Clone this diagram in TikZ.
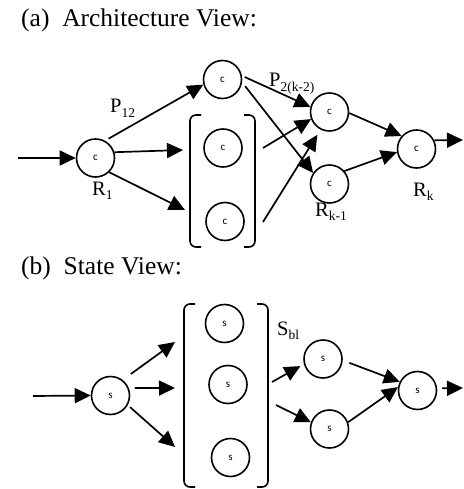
\documentclass[tikz,border=0pt]{standalone}
\usepackage{fontspec}
\setmainfont{Liberation Serif}
\newfontfamily\cellfont{Carlito}
\usetikzlibrary{arrows.meta}
% label with a lowered, smaller index
\newcommand\sublbl[2]{#1\raisebox{-0.2em}{\fontsize{13.5}{13.5}\selectfont #2}}

\begin{document}
\begin{tikzpicture}[x=1pt,y=-1pt,
  cell/.style={circle,draw,line width=1.6pt,minimum size=38pt,inner sep=0pt,
               font=\cellfont\fontsize{11}{11}\selectfont},
  arr/.style={line width=1.7pt,-{Triangle[length=16pt,width=15pt]}},
  brk/.style={line width=1.6pt,rounded corners=6pt},
  title/.style={anchor=base west,inner sep=0pt,font=\fontsize{25.5}{30}\selectfont},
  lbl/.style={anchor=base west,inner sep=0pt,font=\fontsize{20.5}{24}\selectfont}]
\useasboundingbox (0,0) rectangle (463,489);

% ---------------- (a) architecture view ----------------
\node[title] (ta) at (21,27) {(a)\hspace{0.5em}Architecture View:};

\node[cell] (r1)  at (95.5,158) {c};
\node[cell] (c2)  at (222.5,79.5) {c};
\node[cell] (b1)  at (223,148) {c};
\node[cell] (b2)  at (225,221.5) {c};
\node[cell] (c3)  at (329.5,112) {c};
\node[cell] (rk1) at (329.5,184) {c};
\node[cell] (rk)  at (416.5,149) {c};

% bracket pair around the replicated cells
\draw[brk] (201,115) -- (190,115) -- (190,247) -- (201,247);
\draw[brk] (244,115) -- (255,115) -- (255,247) -- (244,247);

\coordinate (aStart) at (18,158);
\coordinate (aInM)   at (183,150);
\coordinate (aInL)   at (185,210);
\coordinate (aOutM)  at (263,148);
\coordinate (aOutL)  at (263,222);
\coordinate (aEnd)   at (463,140);

\draw[arr] (aStart) -- (r1.west);
\draw[arr,shorten <=4pt] (r1.61) -- (c2.195);
\draw[arr] (r1.17) -- (aInM);
\draw[arr] (r1.-46) -- (aInL);
\draw[arr,shorten <=3pt] (c2.11) -- (c3.165);
\draw[arr,shorten <=5pt] (c2.-8) -- (rk1.146);
\draw[arr] (aOutM) -- (c3.201);
\draw[arr,shorten >=6pt] (aOutL) -- (c3.243);
\draw[arr] (c3.-3) -- (rk.139);
\draw[arr] (rk1.41) -- (rk.189);
\draw[arr] (rk.26) -- (aEnd);

\node[lbl] (p12)  at (110,113) {\sublbl{P}{12}};
\node[lbl] (lr1)  at (92,195)  {\sublbl{R}{1}};
\node[lbl] (p2k)  at (269,87)  {\sublbl{P}{2(k-2)}};
\node[lbl] (lrk1) at (315,216) {\sublbl{R}{k-1}};
\node[lbl] (lrk)  at (413,196) {\sublbl{R}{k}};

% ---------------- (b) state view ----------------
\node[title] (tb) at (21,274) {(b)\hspace{0.5em}State View:};

\node[cell] (s0) at (110.5,395.5) {s};
\node[cell] (s1) at (224.5,323.5) {s};
\node[cell] (s2) at (228,384.5) {s};
\node[cell] (s3) at (230.5,457.5) {s};
\node[cell] (s4) at (323,359) {s};
\node[cell] (s5) at (329.5,429) {s};
\node[cell] (s6) at (417.5,390.5) {s};

\draw[brk] (195,304) -- (184,304) -- (184,487) -- (195,487);
\draw[brk] (257,304) -- (268,304) -- (268,487) -- (257,487);

\coordinate (bStart) at (33,396);
\coordinate (bInU)   at (175,342);
\coordinate (bInM)   at (175,388);
\coordinate (bInL)   at (175,447);
\coordinate (bOutU)  at (272,382);
\coordinate (bOutL)  at (276,405);
\coordinate (bEnd)   at (463,388);

\draw[arr] (bStart) -- (s0.west);
\draw[arr,shorten <=10pt] (s0.52) -- (bInU);
\draw[arr,shorten <=6pt] (s0.22) -- (bInM);
\draw[arr,shorten <=3pt] (s0.-29) -- (bInL);
\draw[arr,shorten >=4pt] (bOutU) -- (s4.195);
\draw[arr] (bOutL) -- (s5.160);
\draw[arr,shorten <=7pt] (s4.-4) -- (s6.154);
\draw[arr] (s5.20) -- (s6.170);
\draw[arr,shorten <=5pt] (s6.6) -- (bEnd);

\node[lbl] (sbl) at (277,335) {\sublbl{S}{bl}};
\end{tikzpicture}
\end{document}
